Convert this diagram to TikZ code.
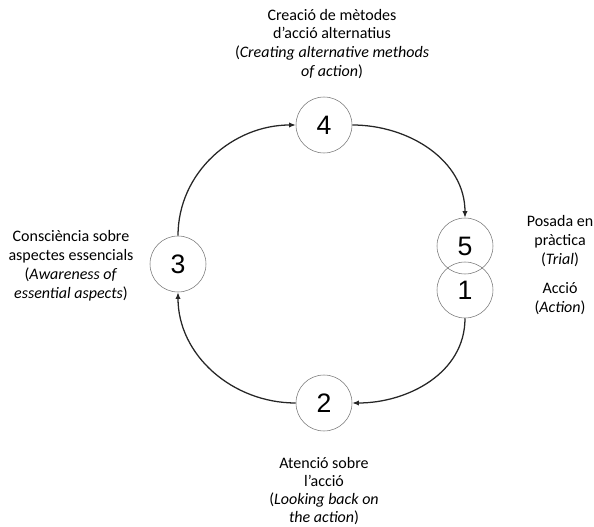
\documentclass[tikz,border=0pt]{standalone}
\usepackage{fontspec}
\setmainfont{Carlito}
\newfontfamily\digitfont{Liberation Sans}
\usetikzlibrary{arrows.meta}

\begin{document}
\begin{tikzpicture}[x=0.75pt, y=-0.75pt, >={Latex[length=5pt,width=4pt]},
  stage/.style={draw=black!55, circle, minimum size=42pt, inner sep=0pt,
                font=\digitfont\fontsize{20}{24}\selectfont},
  note/.style={align=center, font=\fontsize{12}{14.2}\selectfont},
  flow/.style={->, draw=black!85, line width=0.95pt}]
\useasboundingbox (0,0) rectangle (594,527);
% stages of the cycle
\node[stage] (s4) at (324,125) {4};
\node[stage] (s3) at (178,264) {3};
\node[stage] (s5) at (465,246) {5};
\node[stage] (s1) at (465,290) {1};
\node[stage] (s2) at (324,403) {2};
% labels
\node[note] (l4) at (332,44) {Creació de mètodes\\d’acció alternatius\\(\textit{Creating alternative methods}\\\textit{of action})};
\node[note] (l3) at (71,266) {Consciència sobre\\aspectes essencials\\(\textit{Awareness of}\\\textit{essential aspects})};
\node[note] (l5) at (560,241) {Posada en\\pràctica\\(\textit{Trial})};
\node[note] (l1) at (560,299) {Acció\\(\textit{Action})};
\node[note, font=\fontsize{12}{13.6}\selectfont] (l2) at (324,491) {Atenció sobre\\l’acció\\(\textit{Looking back on}\\\textit{the action})};
% cycle arrows
\draw[flow] (s4.east) to[out=0, in=90] (s5.north);
\draw[flow] (s1.south) to[out=-90, in=0] (s2.east);
\draw[flow] (s2.west) to[out=180, in=-90] (s3.south);
\draw[flow] (s3.north) to[out=90, in=180] (s4.west);
\end{tikzpicture}
\end{document}
